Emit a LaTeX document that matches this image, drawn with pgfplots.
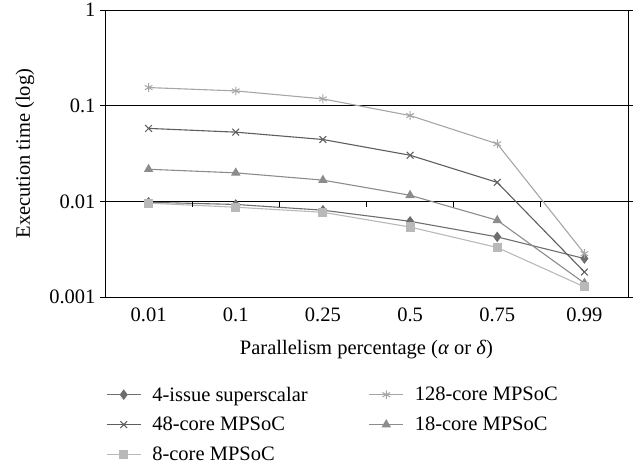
\documentclass[border=0pt]{standalone}
\usepackage{pgfplots}
\pgfplotsset{compat=1.18}
\usepackage{fontspec}
\setmainfont{Liberation Serif}
\definecolor{cFour}{HTML}{6E6E6E}
\definecolor{cFortyEight}{HTML}{5E5E5E}
\definecolor{cEight}{HTML}{B9B9B9}
\definecolor{cOneTwoEight}{HTML}{A6A6A6}
\definecolor{cEighteen}{HTML}{8C8C8C}
\newcommand{\figfont}{\fontsize{20.5}{23}\selectfont}
\begin{document}
\begin{tikzpicture}
\begin{axis}[
  scale only axis, width=523pt, height=287pt,
  ymode=log, ymin=0.001, ymax=1,
  xmin=-0.5, xmax=5.5,
  xtick={0,1,2,3,4,5}, xticklabels={0.01,0.1,0.25,0.5,0.75,0.99},
  ytick={0.001,0.01,0.1,1}, yticklabels={0.001,0.01,0.1,1},
  yminorticks=false, tick align=outside, major tick length=5pt,
  xtick style={draw=none}, ytick style={black, line width=0.8pt},
  ymajorgrids, grid style={black, line width=0.8pt},
  axis line style={black, line width=0.8pt},
  /pgf/number format/assume math mode=true,
  tick label style={font=\figfont},
  label style={font=\figfont},
  xticklabel style={yshift=-2pt},
  yticklabel style={xshift=-1pt},
  xlabel={Parallelism percentage (\textit{α} or \textit{δ})},
  ylabel={Execution time (log)},
  xlabel style={yshift=-12pt},
  ylabel style={at={([xshift=-80pt]rel axis cs:0,0.5)}, anchor=center},
  clip=false,
  legend columns=2,
  legend cell align=left,
  legend style={draw=none, fill=none, font=\figfont, inner sep=0pt,
    at={([xshift=1pt]rel axis cs:0,-0.305)}, anchor=north west,
    /tikz/every even column/.append style={column sep=59pt},
    row sep=10.5pt},
  legend image code/.code={\draw[#1] (0pt,0pt) -- (34pt,0pt); \draw[#1, only marks] plot coordinates {(17pt,0pt)}; \path (43pt,0pt);},
  every axis plot/.append style={line width=1.1pt, mark size=4.4pt},
]
\addplot[cFour, mark=diamond*, mark options={solid, fill=cFour}] coordinates {(0,0.0098) (1,0.0093) (2,0.0081) (3,0.0062) (4,0.00426) (5,0.00253)};
\addlegendentry{4-issue superscalar}
\addplot[cOneTwoEight, mark=asterisk, mark options={solid, line width=1pt}] coordinates {(0,0.155) (1,0.143) (2,0.118) (3,0.079) (4,0.040) (5,0.00285)};
\addlegendentry{128-core MPSoC}
\addplot[cFortyEight, mark=x, mark options={solid, line width=1pt}, mark size=4.8pt] coordinates {(0,0.058) (1,0.053) (2,0.0444) (3,0.0304) (4,0.0158) (5,0.00183)};
\addlegendentry{48-core MPSoC}
\addplot[cEighteen, mark=triangle*, mark options={solid, fill=cEighteen}] coordinates {(0,0.0217) (1,0.0199) (2,0.0167) (3,0.0116) (4,0.00635) (5,0.0014)};
\addlegendentry{18-core MPSoC}
\addplot[cEight, mark=square*, mark options={solid, fill=cEight}, mark size=4pt] coordinates {(0,0.0096) (1,0.0087) (2,0.0077) (3,0.0054) (4,0.0033) (5,0.00128)};
\addlegendentry{8-core MPSoC}
\foreach \t in {0.5,1.5,2.5,3.5,4.5} {
  \edef\temp{\noexpand\draw[black, line width=0.8pt] (axis cs:\t,0.01) -- ([yshift=-6pt]axis cs:\t,0.01);}
  \temp
}
\path ([xshift=13pt]rel axis cs:1,1) -- ([xshift=-105pt]rel axis cs:0,1);
\end{axis}
\end{tikzpicture}
\end{document}
